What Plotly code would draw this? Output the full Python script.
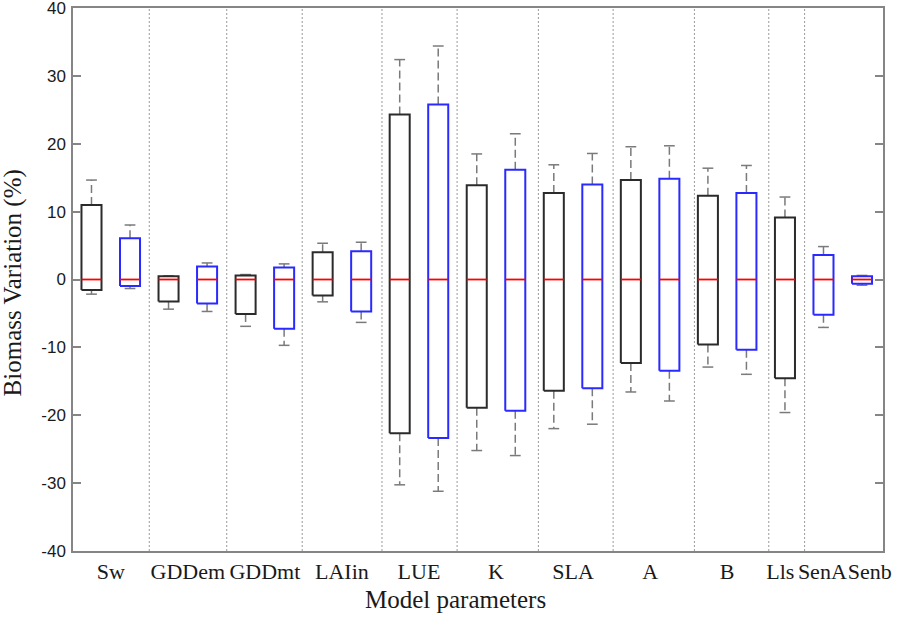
import plotly.graph_objects as go

# ---------------- data ----------------
box_labels = ["Sw", "Sw", "GDDem", "GDDem", "GDDmt", "GDDmt", "LAIin", "LAIin",
              "LUE", "LUE", "K", "K", "SLA", "SLA", "A", "A", "B", "B",
              "Lls", "SenA", "Senb"]
box_series = ["black", "blue", "black", "blue", "black", "blue", "black", "blue",
              "black", "blue", "black", "blue", "black", "blue", "black", "blue",
              "black", "blue", "black", "blue", "blue"]
q3 = [10.97, 6.07, 0.49, 1.91, 0.59, 1.76, 4.01, 4.16, 24.31, 25.8, 13.9, 16.17,
      12.74, 14.01, 14.65, 14.85, 12.35, 12.74, 9.12, 3.62, 0.49]
q1 = [-1.53, -0.94, -3.24, -3.53, -5.1, -7.26, -2.35, -4.71, -22.65, -23.34, -18.88, -19.32,
      -16.38, -16.03, -12.31, -13.44, -9.56, -10.35, -14.56, -5.2, -0.64]
median = [0] * 21
upper_whisker = [14.65, 8.03, 0.55, 2.44, 0.73, 2.3, 5.34, 5.49, 32.4, 34.4, 18.5, 21.47,
                 16.9, 18.57, 19.56, 19.7, 16.4, 16.8, 12.15, 4.85, 0.6]
lower_whisker = [-2.16, -1.33, -4.37, -4.71, -6.9, -9.7, -3.29, -6.32, -30.25, -31.2, -25.2, -25.94,
                 -21.97, -21.32, -16.57, -17.9, -12.9, -13.97, -19.6, -7.06, -0.84]

category_labels = ["Sw", "GDDem", "GDDmt", "LAIin", "LUE", "K", "SLA", "A", "B", "Lls", "SenA", "Senb"]
y_tick_values = [-40, -30, -20, -10, 0, 10, 20, 30, 40]
y_tick_labels = ["-40", "-30", "-20", "-10", "0", "10", "20", "30", "40"]

# ---------------- layout helpers (positions / styles) ----------------
positions = list(range(1, len(box_labels) + 1))
category_pos = []
for lab in category_labels:
    ps = [p for p, l in zip(positions, box_labels) if l == lab]
    category_pos.append(sum(ps) / len(ps))
# small label nudges so the crowded last labels sit as in the reference
label_nudge = {"Lls": -0.12, "SenA": -0.03, "Senb": 0.2}
category_tick_pos = [p + label_nudge.get(l, 0) for p, l in zip(category_pos, category_labels)]
separator_x = [2.50, 4.51, 6.47, 8.54, 10.49, 12.6, 14.54, 16.65, 18.58, 19.51]

HALF_W = 0.26
CAP_W = 0.14
colors = {"black": "#2b2b2b", "blue": "#2a2aff"}
WHISKER_COLOR = "#7a7a7a"

fig = go.Figure()

# separators
for sx in separator_x:
    fig.add_shape(type="line", xref="x", yref="paper", x0=sx, x1=sx, y0=0, y1=1,
                  line=dict(color="#9a9a9a", width=1, dash="2px,2px"), layer="below")

# whiskers (dashed) and caps
wx, wy, cx, cy = [], [], [], []
for p, lo, hi, a, b in zip(positions, lower_whisker, upper_whisker, q1, q3):
    wx += [p, p, None, p, p, None]
    wy += [b, hi, None, a, lo, None]
    cx += [p - CAP_W, p + CAP_W, None, p - CAP_W, p + CAP_W, None]
    cy += [hi, hi, None, lo, lo, None]
fig.add_trace(go.Scatter(x=wx, y=wy, mode="lines", hoverinfo="skip",
                         line=dict(color=WHISKER_COLOR, width=1.5, dash="8px,4px")))
fig.add_trace(go.Scatter(x=cx, y=cy, mode="lines", hoverinfo="skip",
                         line=dict(color=WHISKER_COLOR, width=1.5)))

# boxes
for series in ["black", "blue"]:
    bx, by = [], []
    for p, s, a, b in zip(positions, box_series, q1, q3):
        if s != series:
            continue
        bx += [p - HALF_W, p + HALF_W, p + HALF_W, p - HALF_W, p - HALF_W, None]
        by += [a, a, b, b, a, None]
    fig.add_trace(go.Scatter(x=bx, y=by, mode="lines", hoverinfo="skip",
                             line=dict(color=colors[series], width=2)))

# medians
mx, my = [], []
for p, m in zip(positions, median):
    mx += [p - HALF_W, p + HALF_W, None]
    my += [m, m, None]
fig.add_trace(go.Scatter(x=mx, y=my, mode="lines", hoverinfo="skip",
                         line=dict(color="#ff0000", width=1.8)))

fig.update_layout(
    width=905, height=618,
    margin=dict(l=73, r=22, t=8, b=67),
    paper_bgcolor="white", plot_bgcolor="white",
    showlegend=False,
    xaxis=dict(range=[0.52, 21.545], tickvals=category_tick_pos, ticktext=category_labels,
               tickangle=0, automargin=False, ticklabeloverflow="allow",
               showgrid=False, zeroline=False, ticks="",
               showline=True, linecolor="#858585", linewidth=1.5, mirror=True,
               tickfont=dict(family="Liberation Serif", size=22, color="#1a1a1a")),
    yaxis=dict(range=[-40, 40], tickvals=y_tick_values, ticktext=y_tick_labels,
               automargin=False, ticklabeloverflow="allow",
               showgrid=False, zeroline=False, ticks="inside", ticklen=8,
               tickcolor="#858585", tickwidth=1.5,
               showline=True, linecolor="#858585", linewidth=1.5, mirror="ticks",
               ticklabelstandoff=2,
               tickfont=dict(family="Liberation Sans", size=17, color="#1a1a1a")),
    annotations=[
        dict(text="Model parameters", xref="paper", yref="paper", x=0.472, y=-0.0902,
             xanchor="center", yanchor="middle", showarrow=False,
             font=dict(family="Liberation Serif", size=25, color="#1a1a1a")),
        dict(text="Biomass Variation (%)", xref="paper", yref="paper", x=-0.0729, y=0.4945,
             xanchor="center", yanchor="middle", textangle=-90, showarrow=False,
             font=dict(family="Liberation Serif", size=25, color="#1a1a1a")),
    ],
)

fig.write_html("out.html", config={"displayModeBar": False},
               post_script="document.body.style.margin='0px';")
